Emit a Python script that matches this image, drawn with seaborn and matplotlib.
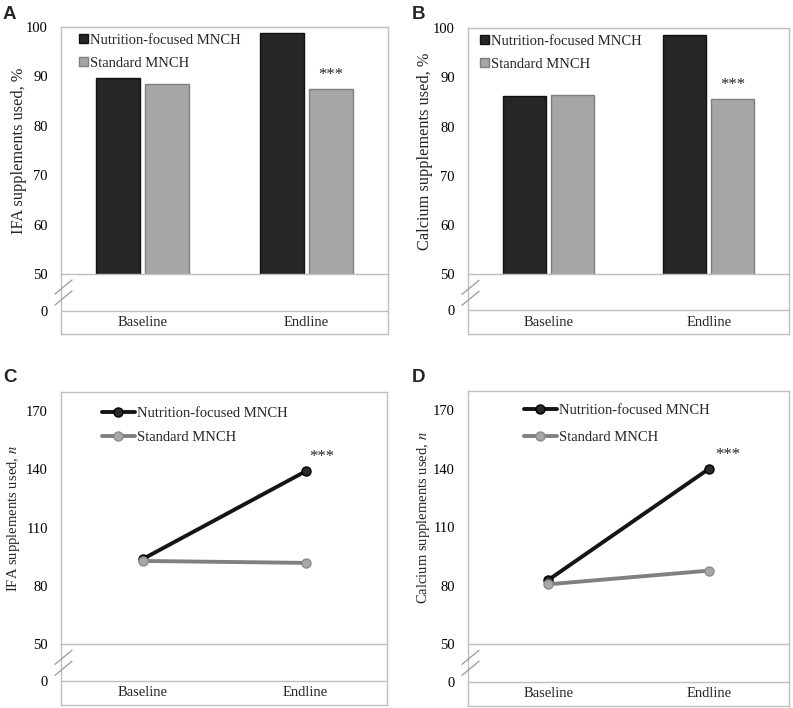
import matplotlib
matplotlib.use("Agg")
import matplotlib.pyplot as plt
import seaborn as sns
import pandas as pd
from matplotlib.lines import Line2D
from matplotlib.patches import Patch

# ---------------- data ----------------
categories = ["Baseline", "Endline"]
groups = ["Nutrition-focused MNCH", "Standard MNCH"]

ifa_pct_nutrition = [89.7, 98.7]
ifa_pct_standard = [88.5, 87.5]
ca_pct_nutrition = [86.2, 98.6]
ca_pct_standard = [86.3, 85.6]

ifa_n_nutrition = [93.8, 139.0]
ifa_n_standard = [92.9, 91.9]
ca_n_nutrition = [83.0, 140.0]
ca_n_standard = [80.8, 87.8]

pct_ticks = [50, 60, 70, 80, 90, 100]
n_ticks = [50, 80, 110, 140, 170]

# ---------------- style ----------------
W, H = 793, 708
sns.set_theme(style="white")
plt.rcParams["font.family"] = ["Liberation Serif", "DejaVu Serif"]
plt.rcParams["mathtext.fontset"] = "stix"

DARK = "#262626"
GRAY = "#a6a6a6"
SPINE = "#bfbfbf"
FS = 10.5

fig = plt.figure(figsize=(W / 100, H / 100), dpi=100)


def px_axes(l, t, r, b):
    return fig.add_axes([l / W, 1 - b / H, (r - l) / W, (b - t) / H])


def frame(ax):
    for s in ax.spines.values():
        s.set_color(SPINE)
        s.set_linewidth(1.0)
    ax.tick_params(length=0, labelsize=FS, pad=9.5, colors="black")


def make_df(nut, std):
    return pd.DataFrame({
        "time": categories * 2,
        "group": [groups[0]] * 2 + [groups[1]] * 2,
        "value": list(nut) + list(std),
    })


def panel(box, kind, nut, std, ylim, yticks, ylabel, ylab_fs, ylab_x,
          letter, letter_xy, leg_anchor, leg_space, star_xy, star_off):
    l, t, r, b, y50, y0 = box
    ax = px_axes(l, t, r, y50)
    axl = px_axes(l, y50, r, b)
    df = make_df(nut, std)
    if kind == "bar":
        sns.barplot(data=df, x="time", y="value", hue="group", order=categories,
                    hue_order=groups, palette=[DARK, GRAY], width=0.6, gap=0.1,
                    saturation=1, errorbar=None, legend=False, linewidth=1.0, ax=ax)
        for cont, ec in zip(ax.containers, ["#111111", "#7f7f7f"]):
            for p in cont:
                p.set_edgecolor(ec)
        handles = [Patch(facecolor=DARK, edgecolor="#111111"),
                   Patch(facecolor=GRAY, edgecolor="#7f7f7f")]
        ax.legend(handles, groups, loc="upper left", bbox_to_anchor=leg_anchor,
                  frameon=False, fontsize=FS, borderpad=0, borderaxespad=0,
                  handlelength=0.6, handleheight=0.6, handletextpad=0.15,
                  labelspacing=leg_space)
    else:
        sns.pointplot(data=df, x="time", y="value", hue="group", order=categories,
                      hue_order=groups, palette=["#151515", "#808080"], markers="o",
                      linestyles="-", errorbar=None, legend=False, dodge=False,
                      markersize=6.5, linewidth=2.8, ax=ax)
        faces = ["#2a2a2a", "#a8a8a8"]
        edges = ["#000000", "#8c8c8c"]
        for ln, fc, ec in zip(ax.lines, faces, edges):
            ln.set_markerfacecolor(fc)
            ln.set_markeredgecolor(ec)
            ln.set_markeredgewidth(1.0)
        handles = [Line2D([], [], color="#151515", lw=2.8, marker="o", ms=6.5,
                          mfc=faces[0], mec=edges[0]),
                   Line2D([], [], color="#808080", lw=2.8, marker="o", ms=6.5,
                          mfc=faces[1], mec=edges[1])]
        ax.legend(handles, groups, loc="upper left", bbox_to_anchor=leg_anchor,
                  frameon=False, fontsize=FS, borderpad=0, borderaxespad=0,
                  handlelength=2.25, handletextpad=0.15, labelspacing=leg_space)

    ax.set_xlim(-0.5, 1.5)
    ax.set_ylim(*ylim)
    ax.set_yticks(yticks)
    ax.set_yticklabels([str(v) for v in yticks])
    ax.set_xticks([])
    ax.set_xlabel("")
    ax.set_ylabel(ylabel, fontsize=ylab_fs)
    ax.yaxis.set_label_coords(ylab_x, 0.5)
    frame(ax)
    ax.spines["bottom"].set_visible(False)

    ax.annotate("***", xy=star_xy, xytext=star_off, textcoords="offset points",
                ha="center", va="bottom", fontsize=12)

    # lower broken-axis strip
    axl.set_xlim(-0.5, 1.5)
    axl.set_ylim(-(b - y0), (y0 - y50))
    axl.set_yticks([0])
    axl.set_yticklabels(["0"])
    axl.set_xticks([])
    axl.axhline(0, color=SPINE, lw=1.0)
    frame(axl)
    mid = -(b - y0) / 2
    for i, c in enumerate(categories):
        axl.text(i, mid, c, ha="center", va="center", fontsize=FS)

    # break marks
    for dy in (0, 11):
        fig.add_artist(Line2D([(l + 11) / W, (l - 6) / W],
                              [1 - (y50 + 6 + dy) / H, 1 - (y50 + 20 + dy) / H],
                              color="#a0a0a0", lw=1.0))

    fig.text(letter_xy[0] / W, 1 - letter_xy[1] / H, letter, fontsize=13.5,
             fontweight="bold", family=["Liberation Sans", "DejaVu Sans"],
             ha="left", va="baseline")
    return ax


panel((61, 27, 388, 334, 274, 311.5), "bar", ifa_pct_nutrition, ifa_pct_standard,
      (50, 100), pct_ticks, "IFA supplements used, %", 11.8, -0.105,
      "A", (3, 19), (0.055, 0.973), 0.69, (1.15, ifa_pct_standard[1]), (0, 4))
panel((468, 28, 789, 334, 274.3, 310.5), "bar", ca_pct_nutrition, ca_pct_standard,
      (50, 100), pct_ticks, "Calcium supplements used, %", 11.8, -0.108,
      "B", (412, 19), (0.037, 0.973), 0.69, (1.15, ca_pct_standard[1]), (0, 4))
panel((61, 391.7, 387, 705, 644.3, 680.5), "line", ifa_n_nutrition, ifa_n_standard,
      (50, 180), n_ticks, r"IFA supplements used, $n$", 10.5, -0.12,
      "C", (3, 382), (0.126, 0.940), 0.73, (1, ifa_n_nutrition[1]), (12, 4.5))
panel((468, 391, 789, 705.7, 644.3, 681.7), "line", ca_n_nutrition, ca_n_standard,
      (50, 180), n_ticks, r"Calcium supplements used, $n$", 10.5, -0.113,
      "D", (412, 382), (0.174, 0.950), 0.96, (1, ca_n_nutrition[1]), (14, 4.5))

fig.savefig("out.png", dpi=100)
